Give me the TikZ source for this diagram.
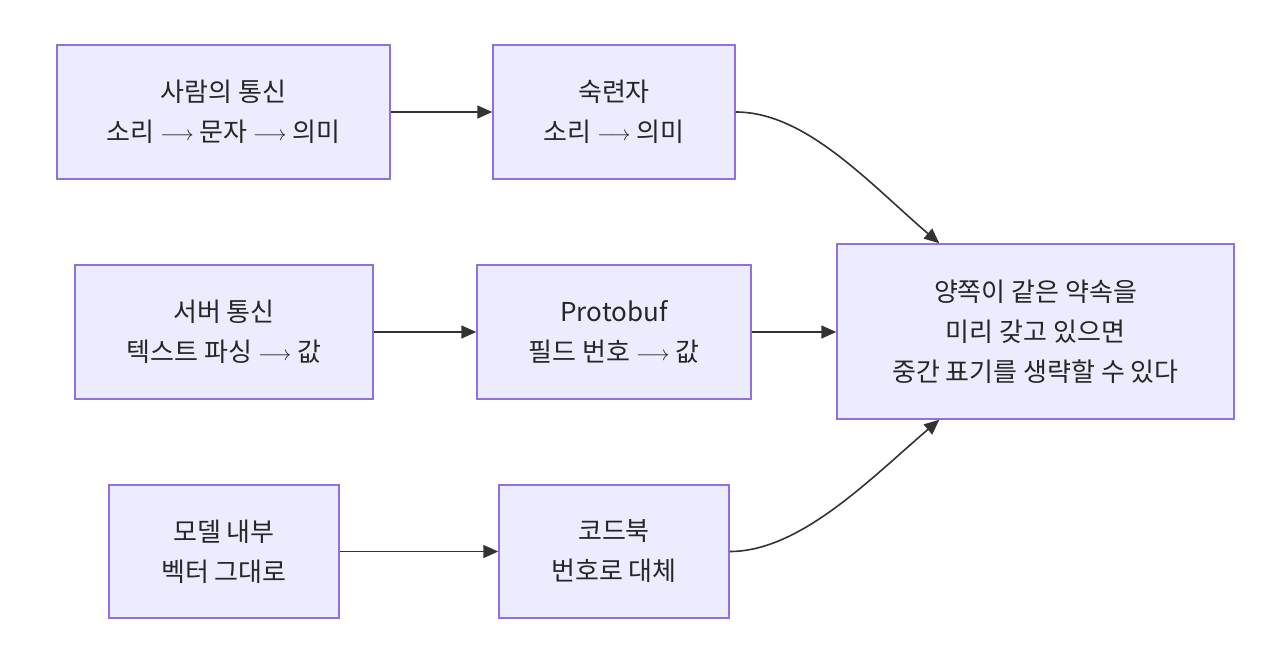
\documentclass[tikz,border=0pt]{standalone}
\usepackage{fontspec}
\setmainfont{Noto Sans CJK KR}
\newcommand{\myarr}{{\fontsize{22}{40}\selectfont\raisebox{1pt}{$\longrightarrow$}}}
\usetikzlibrary{arrows.meta,calc}
\definecolor{boxfill}{HTML}{ECECFF}
\definecolor{boxline}{HTML}{9370DB}
\definecolor{edge}{HTML}{333333}
\tikzset{
  box/.style={draw=boxline,fill=boxfill,line width=1.5pt,align=center,
    font=\fontsize{26}{40}\selectfont,text=black!85,inner sep=0pt},
  conn/.style={draw=edge,line width=1.6pt,-{Triangle[length=15pt,width=13pt]}},
}
\begin{document}
\begin{tikzpicture}[x=1pt,y=-1pt]
\useasboundingbox (0,0) rectangle (1280,654);
\node[box,minimum width=333pt,minimum height=134pt] (A) at (223.5,112) {사람의 통신\\소리 \myarr{} 문자 \myarr{} 의미};
\node[box,minimum width=242pt,minimum height=134pt] (B) at (614,112) {숙련자\\소리 \myarr{} 의미};
\node[box,minimum width=298pt,minimum height=134pt] (C) at (224,332) {서버 통신\\텍스트 파싱 \myarr{} 값};
\node[box,minimum width=274pt,minimum height=134pt] (D) at (614,332) {Protobuf\\필드 번호 \myarr{} 값};
\node[box,minimum width=397pt,minimum height=175pt] (E) at (1035.5,331.5) {양쪽이 같은 약속을\\미리 갖고 있으면\\중간 표기를 생략할 수 있다};
\node[box,minimum width=230pt,minimum height=133pt] (F) at (224,551.5) {모델 내부\\벡터 그대로};
\node[box,minimum width=230pt,minimum height=133pt] (G) at (614,551.5) {코드북\\번호로 대체};
\coordinate (Etop) at ($(E.north west)+(103,0)$);
\coordinate (Ebot) at ($(E.south west)+(103,0)$);
\draw[conn] (A.east) -- (B.west);
\draw[conn] (C.east) -- (D.west);
\draw[conn] (D.east) -- (E.west |- D.east);
\draw[conn] (F.east) -- (G.west);
\draw[conn] (B.east) .. controls ($(B.east)+(70,0)$) and ($(Etop)+(-70,-60)$) .. (Etop);
\draw[conn] (G.east) .. controls ($(G.east)+(70,0)$) and ($(Ebot)+(-70,60)$) .. (Ebot);
\end{tikzpicture}
\end{document}
